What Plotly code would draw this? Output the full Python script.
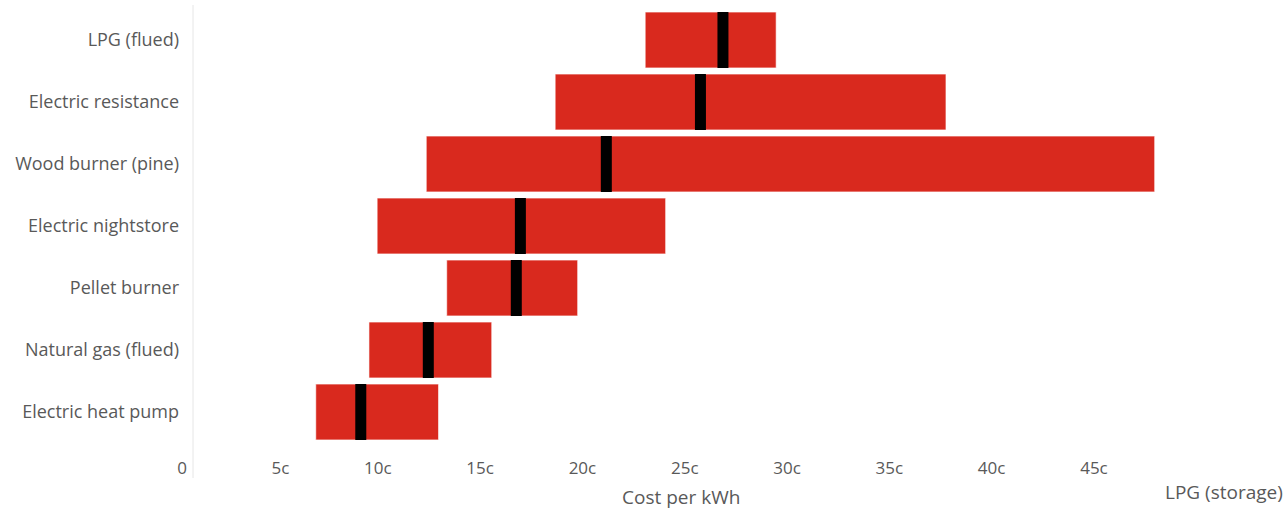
import plotly.graph_objects as go

# Heating options, top to bottom
categories = [
    "LPG (flued)",
    "Electric resistance",
    "Wood burner (pine)",
    "Electric nightstore",
    "Pellet burner",
    "Natural gas (flued)",
    "Electric heat pump",
]
# Cost range per kWh (cents)
low_cost = [22.1, 17.7, 11.4, 9.0, 12.4, 8.6, 6.0]
high_cost = [28.5, 36.8, 47.0, 23.1, 18.8, 14.6, 12.0]
median_cost = [25.9, 24.8, 20.2, 16.0, 15.8, 11.5, 8.2]

tick_values = [0, 5, 10, 15, 20, 25, 30, 35, 40, 45]
tick_labels = ["0", "5c", "10c", "15c", "20c", "25c", "30c", "35c", "40c", "45c"]

RED = "#d9291e"
FONT = "Open Sans, Noto Sans, sans-serif"
TEXT = "#595959"

fig = go.Figure()

# Floating range bars
fig.add_trace(go.Bar(
    y=categories,
    x=[h - l for l, h in zip(low_cost, high_cost)],
    base=low_cost,
    orientation="h",
    marker=dict(color=RED, line=dict(color="rgba(255,255,255,0.6)", width=1)),
    hoverinfo="skip",
    showlegend=False,
))

# Median markers
fig.add_trace(go.Scatter(
    y=categories,
    x=median_cost,
    mode="markers",
    marker=dict(symbol="line-ns", size=40, color="black",
                line=dict(color="black", width=11)),
    hoverinfo="skip",
    showlegend=False,
))

fig.update_layout(
    width=1286,
    height=511,
    margin=dict(l=193, r=117, t=9, b=68),
    paper_bgcolor="white",
    plot_bgcolor="white",
    bargap=0.1,
    font=dict(family=FONT, color=TEXT, size=17),
    xaxis=dict(
        range=[0, 47.7],
        tickvals=tick_values,
        ticktext=tick_labels,
        showgrid=False,
        zeroline=False,
        showline=False,
        ticks="",
        ticklabelposition="outside left",
        ticklabelshift=-6,
        ticklabelstandoff=13,
        tickfont=dict(size=17, color=TEXT),
    ),
    yaxis=dict(
        categoryorder="array",
        categoryarray=categories,
        range=[6.5, -0.5],
        showgrid=False,
        zeroline=False,
        showline=False,
        ticks="",
        ticklabelstandoff=13,
        tickfont=dict(size=18, color=TEXT),
    ),
    shapes=[dict(
        type="line", xref="paper", yref="paper",
        x0=0, x1=0, y0=-35 / 434, y1=1 + 4 / 434,
        line=dict(color="#e6e6e6", width=1),
    )],
    annotations=[
        dict(text="Cost per kWh", xref="paper", yref="paper", x=0.5, y=0,
             xanchor="center", yanchor="middle", yshift=-54, showarrow=False,
             font=dict(size=19, color=TEXT, family=FONT)),
        dict(text="LPG (storage)", xref="paper", yref="paper", x=1, y=0,
             xanchor="right", yanchor="middle", xshift=116, yshift=-49,
             showarrow=False, font=dict(size=19, color=TEXT, family=FONT)),
    ],
)

fig.write_html("out.html")
